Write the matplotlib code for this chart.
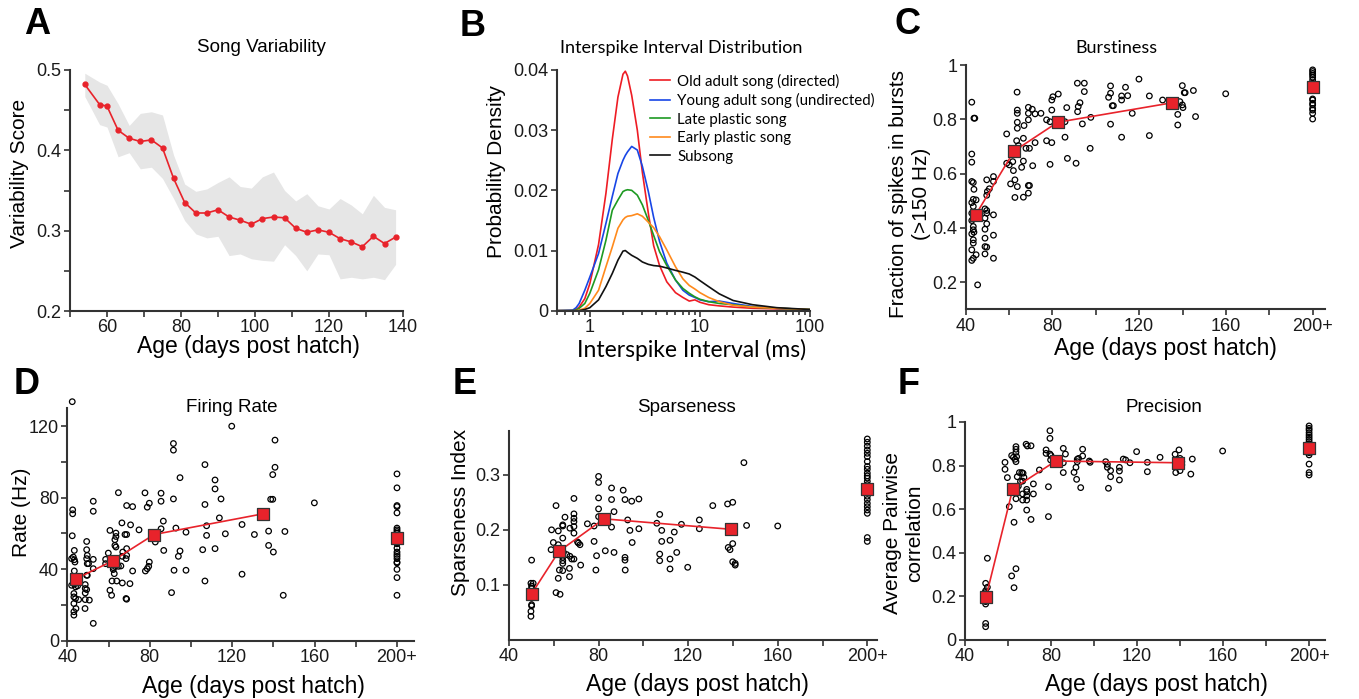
import numpy as np
import matplotlib
matplotlib.use('Agg')
import matplotlib.pyplot as plt
from matplotlib.ticker import MultipleLocator, NullFormatter

W, H = 1359, 699
plt.rcParams['font.family'] = ['Liberation Sans', 'DejaVu Sans']
CALIBRI = ['Lato', 'DejaVu Sans']   # stand-in for Calibri
RED = '#e8232b'
EDGE = '#333333'

# ---------------- A: song variability ----------------
a_age = [54, 58, 60, 63, 66, 69, 72, 75, 78, 81, 84, 87, 90, 93, 96, 99, 102, 105,
         108, 111, 114, 117, 120, 123, 126, 129, 132, 135, 138]
a_score = [0.482, 0.457, 0.455, 0.425, 0.415, 0.411, 0.413, 0.403, 0.365, 0.335, 0.322,
           0.322, 0.326, 0.317, 0.313, 0.308, 0.315, 0.317, 0.316, 0.303, 0.298, 0.301,
           0.298, 0.290, 0.286, 0.280, 0.293, 0.284, 0.292]
a_upper = [0.496, 0.485, 0.481, 0.458, 0.431, 0.446, 0.448, 0.444, 0.394, 0.358, 0.349,
           0.352, 0.360, 0.367, 0.355, 0.353, 0.367, 0.373, 0.350, 0.337, 0.346, 0.331,
           0.327, 0.340, 0.332, 0.321, 0.344, 0.329, 0.326]
a_lower = [0.467, 0.432, 0.429, 0.392, 0.397, 0.377, 0.379, 0.365, 0.340, 0.3125, 0.296,
           0.291, 0.293, 0.269, 0.271, 0.265, 0.263, 0.262, 0.2825, 0.269, 0.250, 0.271,
           0.270, 0.240, 0.242, 0.240, 0.242, 0.239, 0.258]

# ---------------- B: ISI distributions ----------------
isi_ms = [0.5, 0.7, 0.75, 0.8, 0.9, 1.0, 1.2, 1.4, 1.6, 1.8, 2.0, 2.1, 2.2, 2.4, 2.7, 3.0,
          3.4, 3.8, 4.3, 5.0, 6.0, 7.0, 8.0, 9.0, 10, 12, 15, 20, 30, 50, 100]
isi_old_adult = [0, 0, 0.0002, 0.0006, 0.002, 0.0045, 0.011, 0.0195, 0.0285, 0.0355, 0.0393,
                 0.0398, 0.0390, 0.0358, 0.0300, 0.0230, 0.0162, 0.0108, 0.0075, 0.0048,
                 0.0030, 0.0022, 0.0016, 0.0018, 0.0014, 0.0010, 0.0008, 0.0006, 0.0004,
                 0.0003, 0.0001]
isi_young_adult = [0, 0.0001, 0.0005, 0.0012, 0.0034, 0.0056, 0.0095, 0.0145, 0.019, 0.0228,
                   0.025, 0.0258, 0.0264, 0.0273, 0.0267, 0.024, 0.0198, 0.0155, 0.0115,
                   0.0079, 0.0051, 0.0034, 0.0026, 0.0022, 0.0018, 0.0015, 0.0016, 0.0012,
                   0.0007, 0.0004, 0.0002]
isi_late_plastic = [0, 0, 0.0001, 0.0004, 0.0012, 0.0029, 0.0068, 0.0117, 0.0167, 0.0184,
                    0.0198, 0.0200, 0.0201, 0.0200, 0.0192, 0.0176, 0.0150, 0.0125, 0.0098,
                    0.0075, 0.0051, 0.0037, 0.0029, 0.0023, 0.0019, 0.0015, 0.0012, 0.0010,
                    0.0006, 0.0004, 0.0002]
isi_early_plastic = [0, 0, 0, 0.0001, 0.0004, 0.0012, 0.0034, 0.0073, 0.0106, 0.0137, 0.0151,
                     0.0155, 0.0157, 0.0158, 0.0161, 0.0157, 0.0147, 0.0138, 0.0123, 0.0101,
                     0.0073, 0.0053, 0.0042, 0.0036, 0.0030, 0.0022, 0.0015, 0.0009, 0.0006,
                     0.0004, 0.0002]
isi_subsong = [0, 0, 0, 0, 0.0002, 0.0005, 0.0018, 0.004, 0.0062, 0.0084, 0.0099, 0.0100,
               0.0097, 0.0092, 0.0087, 0.0081, 0.0077, 0.0075, 0.0074, 0.0071, 0.0067, 0.0064,
               0.0061, 0.0056, 0.0050, 0.0040, 0.0028, 0.0017, 0.0010, 0.0005, 0.0002]
isi_labels = ['Old adult song (directed)', 'Young adult song (undirected)',
              'Late plastic song', 'Early plastic song', 'Subsong']
isi_colors = ['#ee1c24', '#1846e6', '#1e9a22', '#ff8a1c', '#111111']

# ---------------- C: burstiness ----------------
c_age = [42.8, 43.8, 44.2, 42.8, 42.8, 42.8, 43.5, 43.8, 43.5, 44.8, 42.8, 43.5, 42.8, 42.8,
         43.5, 43.5, 43.8, 42.8, 43.5, 43.5, 42.8, 44.8, 43.5, 42.8, 45.5,
         49.7, 52.8, 52.8, 50.9, 50.0, 49.7, 48.9, 49.7, 49.7, 52.8, 48.9, 49.7, 48.9, 52.8,
         48.9, 48.9, 49.7, 48.9, 52.8,
         63.7, 63.8, 63.8, 68.9, 70.7, 72.0, 74.7, 63.8, 63.8, 66.9, 68.9, 68.9, 58.9, 63.5,
         66.6, 72.0, 67.8, 69.4, 64.3, 58.9, 60.1, 61.7, 62.0, 66.6, 65.8, 70.9, 60.7, 62.7,
         63.8, 68.9, 69.4, 68.9, 62.7, 66.6,
         77.3, 79.7, 78.9, 77.3, 78.9, 79.7, 79.7, 80.2, 82.7, 85.8, 86.9, 86.6, 85.8, 90.9,
         91.6, 91.9, 92.7, 91.5, 94.7, 94.7, 93.8, 97.4, 97.7,
         105.9, 106.8, 106.8, 107.6, 108.1, 106.8, 111.9, 111.9, 113.7, 114.7, 111.9, 116.8,
         119.9, 124.7, 124.7, 130.8, 138.8, 139.9, 139.9, 140.2, 140.8, 141.2, 137.8, 137.8,
         145.0, 146.0, 159.9]
c_frac = [0.863, 0.804, 0.804, 0.672, 0.642, 0.571, 0.567, 0.542, 0.505, 0.503, 0.493, 0.479,
          0.454, 0.427, 0.405, 0.393, 0.384, 0.378, 0.356, 0.344, 0.319, 0.301, 0.288, 0.280,
          0.190,
          0.577, 0.589, 0.571, 0.544, 0.534, 0.520, 0.470, 0.464, 0.454, 0.448, 0.436, 0.415,
          0.395, 0.373, 0.362, 0.331, 0.329, 0.304, 0.288,
          0.900, 0.834, 0.822, 0.844, 0.837, 0.820, 0.822, 0.789, 0.767, 0.777, 0.798, 0.822,
          0.746, 0.721, 0.730, 0.714, 0.693, 0.693, 0.703, 0.638, 0.632, 0.644, 0.611, 0.646,
          0.623, 0.629, 0.562, 0.577, 0.552, 0.556, 0.556, 0.528, 0.512, 0.513,
          0.721, 0.714, 0.634, 0.798, 0.791, 0.834, 0.871, 0.883, 0.893, 0.734, 0.656, 0.843,
          0.791, 0.638, 0.828, 0.847, 0.861, 0.933, 0.933, 0.902, 0.783, 0.693, 0.807,
          0.881, 0.923, 0.896, 0.850, 0.850, 0.782, 0.886, 0.871, 0.918, 0.887, 0.734, 0.822,
          0.948, 0.886, 0.740, 0.871, 0.865, 0.924, 0.853, 0.843, 0.898, 0.898, 0.818, 0.779,
          0.906, 0.810, 0.894]
c_adult = [0.982, 0.976, 0.969, 0.963, 0.955, 0.945, 0.933, 0.875, 0.871, 0.859, 0.853,
           0.840, 0.834, 0.822, 0.801]
c_mean_age = [44.6, 62.3, 82.4, 135.3]
c_mean = [0.448, 0.683, 0.789, 0.861]
c_adult_mean = 0.918

# ---------------- D: firing rate ----------------
d_age = [42.4, 42.6, 42.6, 42.4, 43.4, 42.1, 42.9, 43.4, 43.7, 43.4, 42.1, 43.4, 44.0, 45.0,
         43.2, 43.2, 44.0, 45.5, 43.2, 44.2, 43.2, 43.2,
         52.6, 52.6, 49.4, 49.4, 49.7, 49.4, 49.7, 50.3, 52.6, 52.6, 49.4, 49.7, 48.7, 48.7,
         49.4, 48.7, 48.7, 50.7, 48.6, 52.6,
         60.7, 63.6, 63.6, 63.1, 63.1, 63.6, 59.9, 58.6, 58.6, 62.3, 62.3, 63.1, 64.8, 66.0,
         62.8, 61.7, 64.0, 60.7, 61.5, 64.8, 66.7, 70.4, 68.5, 68.8, 66.9, 66.7, 68.8, 68.5,
         68.8, 66.5, 70.7, 68.0, 68.8, 74.8, 68.8, 71.7, 71.7, 77.7, 78.8, 79.8, 79.8, 79.5,
         78.8, 77.9,
         82.7, 85.5, 85.5, 86.6, 85.5, 86.8, 91.5, 91.5, 91.5, 92.7, 93.9, 94.7, 94.7, 91.8,
         90.6, 97.6, 97.6,
         105.7, 106.8, 106.8, 107.6, 107.6, 106.8, 111.7, 111.7, 111.7, 113.8, 114.6, 116.7,
         119.8, 124.8, 124.8, 130.8, 137.7, 137.7, 138.7, 139.7, 139.7, 140.0, 140.8, 140.8,
         144.8, 145.6, 159.9]
d_rate = [133.7, 73.2, 71.0, 58.7, 50.5, 45.9, 46.8, 45.3, 44.0, 39.0, 31.0, 31.6, 30.1, 30.7,
          26.4, 24.5, 23.6, 23.0, 20.8, 18.0, 16.2, 14.3,
          78.0, 72.4, 55.5, 50.9, 47.7, 45.9, 43.1, 43.1, 45.5, 40.3, 36.6, 36.6, 31.4, 29.2,
          28.6, 26.7, 23.0, 22.7, 18.0, 9.7,
          61.7, 60.2, 58.3, 56.5, 53.3, 52.4, 49.0, 45.5, 43.1, 40.9, 39.8, 41.6, 41.6, 41.8,
          37.5, 33.4, 33.4, 28.2, 25.4, 82.8, 32.3, 31.9, 23.6, 23.2, 49.6, 47.2, 47.7, 45.9,
          51.5, 65.9, 64.8, 59.4, 59.4, 62.0, 75.6, 75.0, 39.0, 82.7, 74.7, 76.9, 44.0, 41.6,
          40.3, 39.0,
          55.2, 82.5, 78.0, 66.9, 62.6, 50.5, 110.3, 106.6, 79.3, 63.0, 47.2, 50.2, 91.2, 39.4,
          26.9, 60.7, 39.4,
          50.9, 98.5, 76.2, 64.3, 58.9, 33.4, 89.9, 84.9, 51.5, 68.7, 79.3, 59.8, 120.0, 65.0,
          37.2, 59.4, 61.3, 53.3, 79.1, 79.1, 92.9, 49.6, 112.2, 97.0, 25.4, 61.1, 77.1]
d_adult = [93.3, 85.5, 75.6, 75.0, 71.5, 63.0, 62.0, 61.1, 60.2, 54.2, 51.8, 49.6, 48.3, 47.2,
           45.9, 44.0, 43.5, 39.9, 35.3, 25.4]
d_mean_age = [44.4, 62.2, 82.1, 135.1]
d_mean = [34.7, 44.8, 59.4, 71.0]
d_adult_mean = 57.4

# ---------------- E: sparseness ----------------
e_age = [50.1, 49.8, 50.8, 50.1, 50.1, 50.1, 50.1, 50.1, 49.8, 49.8,
         61.0, 69.0, 69.0, 69.0, 69.0, 69.0, 69.0, 59.0, 62.0, 64.0, 64.0, 65.0, 64.0, 67.2,
         59.8, 62.0, 71.0, 71.7, 70.6, 58.8, 64.3, 65.8, 64.0, 67.2, 64.0, 68.0, 64.0, 69.0,
         72.0, 62.5, 64.0, 67.0, 62.0, 67.0, 61.0, 62.8, 75.0, 78.0, 78.0, 79.1, 78.8,
         80.0, 80.0, 80.0, 80.0, 80.0, 83.0, 85.8, 85.8, 86.9, 85.8, 86.9, 91.0, 91.8, 91.8,
         91.8, 91.9, 94.8, 98.0, 93.0, 94.0, 98.0, 95.0,
         106.0, 107.3, 108.2, 108.2, 107.3, 107.3, 111.9, 111.9, 111.9, 113.8, 114.9, 117.0,
         119.8, 125.0, 125.0, 131.0, 137.6, 139.9, 137.9, 138.7, 139.9, 139.9, 141.0, 141.0,
         144.9, 146.1, 160.0]
e_index = [0.145, 0.103, 0.103, 0.098, 0.094, 0.076, 0.064, 0.062, 0.052, 0.043,
           0.244, 0.257, 0.229, 0.221, 0.215, 0.206, 0.194, 0.200, 0.198, 0.209, 0.207, 0.223,
           0.185, 0.203, 0.177, 0.173, 0.176, 0.173, 0.178, 0.164, 0.159, 0.155, 0.150, 0.152,
           0.144, 0.147, 0.139, 0.147, 0.136, 0.127, 0.126, 0.130, 0.112, 0.115, 0.086, 0.083,
           0.211, 0.207, 0.179, 0.153, 0.127,
           0.297, 0.286, 0.258, 0.238, 0.224, 0.162, 0.276, 0.255, 0.233, 0.205, 0.159, 0.272,
           0.255, 0.150, 0.145, 0.127, 0.252, 0.256, 0.218, 0.199, 0.202, 0.177,
           0.212, 0.228, 0.199, 0.179, 0.156, 0.144, 0.181, 0.147, 0.129, 0.196, 0.159, 0.210,
           0.132, 0.218, 0.202, 0.244, 0.247, 0.250, 0.168, 0.164, 0.175, 0.142, 0.139, 0.136,
           0.322, 0.208, 0.207]
e_adult = [0.365, 0.359, 0.352, 0.345, 0.339, 0.333, 0.324, 0.315, 0.310, 0.303, 0.298,
           0.294, 0.288, 0.282, 0.261, 0.255, 0.248, 0.242, 0.236, 0.230, 0.186, 0.179]
e_mean_age = [50.1, 62.3, 82.4, 139.1]
e_mean = [0.084, 0.161, 0.220, 0.201]
e_adult_mean = 0.274

# ---------------- F: precision ----------------
f_age = [50.4, 49.6, 50.4, 49.6, 49.3, 49.6, 49.6, 49.6, 49.6, 49.6,
         58.6, 58.6, 59.7, 61.7, 62.5, 63.3, 63.7, 63.7, 63.7, 64.0, 63.7, 68.4, 69.0, 70.7,
         65.3, 66.4, 67.0, 64.3, 67.4, 66.8, 65.8, 64.8, 68.7, 68.7, 66.8, 68.7, 66.8, 68.7,
         63.7, 68.7, 71.8, 71.8, 70.7, 60.6, 62.8, 63.7, 61.7, 62.8, 74.6, 78.8, 78.8,
         79.5, 79.5, 77.7, 77.7, 79.5, 80.0, 79.8, 85.7, 86.7, 85.7, 85.7, 90.7, 91.6, 92.2,
         92.2, 92.8, 94.7, 94.7, 91.9, 93.8, 97.8, 98.2,
         105.4, 106.2, 106.2, 107.7, 107.7, 106.7, 111.8, 111.8, 111.8, 113.6, 114.7, 116.7,
         119.8, 124.8, 124.8, 130.7, 137.7, 138.0, 139.5, 140.0, 140.8, 140.8, 140.0, 145.0,
         145.7, 159.8]
f_corr = [0.375, 0.260, 0.242, 0.226, 0.217, 0.187, 0.176, 0.165, 0.076, 0.061,
          0.815, 0.783, 0.745, 0.846, 0.838, 0.829, 0.887, 0.875, 0.861, 0.841, 0.818, 0.898,
          0.890, 0.891, 0.768, 0.768, 0.765, 0.749, 0.746, 0.729, 0.727, 0.706, 0.691, 0.680,
          0.670, 0.661, 0.642, 0.642, 0.648, 0.596, 0.716, 0.670, 0.553, 0.612, 0.540, 0.327,
          0.294, 0.240, 0.780, 0.703, 0.566,
          0.960, 0.925, 0.872, 0.856, 0.853, 0.846, 0.826, 0.879, 0.853, 0.813, 0.768, 0.769,
          0.792, 0.818, 0.829, 0.833, 0.875, 0.844, 0.737, 0.699, 0.821, 0.815,
          0.818, 0.806, 0.792, 0.777, 0.749, 0.696, 0.792, 0.775, 0.734, 0.830, 0.826, 0.813,
          0.864, 0.815, 0.772, 0.838, 0.852, 0.768, 0.872, 0.833, 0.818, 0.803, 0.777, 0.761,
          0.830, 0.867]
f_adult = [0.982, 0.971, 0.963, 0.951, 0.940, 0.930, 0.920, 0.910, 0.899, 0.890, 0.869,
           0.859, 0.849, 0.807, 0.768, 0.757]
f_mean_age = [49.8, 62.2, 82.2, 139.2]
f_mean = [0.199, 0.693, 0.821, 0.813]
f_adult_mean = 0.879

age_ticks = [40, 80, 120, 160, 200]
age_ticklabels = ['40', '80', '120', '160', '200+']
ADULT_X = 200


fig = plt.figure(figsize=(W / 100, H / 100), dpi=100)


def add_axes(x0, y0, x1, y1):
    # pixel box (top-left origin) -> figure fraction
    return fig.add_axes([x0 / W, 1 - y1 / H, (x1 - x0) / W, (y1 - y0) / H])


def ftext(x, y, s, **kw):
    kw.setdefault('ha', 'center')
    kw.setdefault('va', 'center')
    return fig.text(x / W, 1 - y / H, s, **kw)


def style(ax):
    for s in ['top', 'right']:
        ax.spines[s].set_visible(False)
    for s in ['left', 'bottom']:
        ax.spines[s].set_linewidth(1.5)
        ax.spines[s].set_color(EDGE)
    ax.tick_params(which='both', direction='out', color=EDGE, width=1.2,
                   labelsize=13, labelcolor='#1a1a1a', pad=2)
    ax.tick_params(which='major', length=4)
    ax.tick_params(which='minor', length=4)
    ax.patch.set_alpha(0)


def age_scatter(ax, ages, vals, adult, mean_age, mean, adult_mean, xmax):
    ax.scatter(ages, vals, s=16, facecolors='none', edgecolors='black',
               linewidths=0.9, zorder=2, clip_on=False)
    ax.scatter([ADULT_X] * len(adult), adult, s=16, facecolors='none',
               edgecolors='black', linewidths=0.9, zorder=2, clip_on=False)
    ax.plot(mean_age, mean, color=RED, lw=1.2, zorder=3)
    ax.scatter(mean_age + [ADULT_X], mean + [adult_mean], marker='s', s=85,
               facecolors=RED, edgecolors=EDGE, linewidths=0.9, zorder=4)
    ax.set_xlim(40, xmax)
    ax.set_xticks(age_ticks, age_ticklabels)
    ax.xaxis.set_minor_locator(MultipleLocator(20))


# A
axA = add_axes(70, 70, 403, 311)
style(axA)
axA.fill_between(a_age, a_lower, a_upper, color='#e6e6e6', lw=0)
axA.plot(a_age, a_score, color=RED, lw=1.2, marker='o', ms=3.5, zorder=3)
axA.set_xlim(50, 140)
axA.set_ylim(0.2, 0.5)
axA.set_xticks([60, 80, 100, 120, 140])
axA.xaxis.set_minor_locator(MultipleLocator(10))
axA.set_yticks([0.2, 0.3, 0.4, 0.5], ['0.2', '0.3', '0.4', '0.5'])
axA.yaxis.set_minor_locator(MultipleLocator(0.05))

# B
axB = add_axes(556.7, 70, 810, 310.7)
style(axB)
for ys, lab, col in zip([isi_old_adult, isi_young_adult, isi_late_plastic,
                         isi_early_plastic, isi_subsong], isi_labels, isi_colors):
    axB.plot(isi_ms, ys, color=col, lw=1.2, label=lab)
axB.set_xscale('log')
axB.set_xlim(0.5, 100)
axB.set_ylim(0, 0.04)
axB.set_xticks([1, 10, 100], ['1', '10', '100'])
axB.xaxis.set_minor_formatter(NullFormatter())
axB.tick_params(which='minor', length=3)
axB.set_yticks([0, 0.01, 0.02, 0.03, 0.04], ['0', '0.01', '0.02', '0.03', '0.04'])
leg = axB.legend(loc='upper left', bbox_to_anchor=(0.37, 0.985), frameon=False,
                 prop={'family': CALIBRI, 'size': 10.8}, handlelength=1.3,
                 handletextpad=0.5, labelspacing=0.3, borderpad=0, borderaxespad=0)

# C
axC = add_axes(965.7, 65, 1325, 309.3)
style(axC)
age_scatter(axC, c_age, c_frac, c_adult, c_mean_age, c_mean, c_adult_mean, 205.7)
axC.set_ylim(0.1, 1.0)
axC.set_yticks([0.2, 0.4, 0.6, 0.8, 1.0], ['0.2', '0.4', '0.6', '0.8', '1'])

# D
axD = add_axes(67.3, 408.3, 414.3, 640.7)
style(axD)
age_scatter(axD, d_age, d_rate, d_adult, d_mean_age, d_mean, d_adult_mean, 208.4)
axD.set_ylim(0, 130)
axD.set_yticks([0, 40, 80, 120])
axD.yaxis.set_minor_locator(MultipleLocator(20))

# E
axE = add_axes(509, 430.7, 876.7, 640)
style(axE)
age_scatter(axE, e_age, e_index, e_adult, e_mean_age, e_mean, e_adult_mean, 204.2)
axE.set_ylim(0, 0.38)
axE.set_yticks([0.1, 0.2, 0.3], ['0.1', '0.2', '0.3'])

# F
axF = add_axes(965, 422, 1325, 640)
style(axF)
age_scatter(axF, f_age, f_corr, f_adult, f_mean_age, f_mean, f_adult_mean, 207.4)
axF.set_ylim(0, 1)
axF.set_yticks([0, 0.2, 0.4, 0.6, 0.8, 1.0], ['0', '0.2', '0.4', '0.6', '0.8', '1'])

# titles
ftext(261.7, 47, 'Song Variability', fontsize=13.5)
ftext(681.3, 48, 'Interspike Interval Distribution', fontsize=13, family=CALIBRI)
ftext(1116.5, 48, 'Burstiness', fontsize=13, family=CALIBRI)
ftext(232, 407, 'Firing Rate', fontsize=13.5)
ftext(686.7, 407, 'Sparseness', fontsize=13.5)
ftext(1164, 407, 'Precision', fontsize=13.5)

# axis labels
XL = 16.5
YL = 15
ftext(248, 347, 'Age (days post hatch)', fontsize=XL)
ftext(691.7, 350, 'Interspike Interval (ms)', fontsize=XL, family=CALIBRI)
ftext(1165.8, 348, 'Age (days post hatch)', fontsize=XL)
ftext(253, 686, 'Age (days post hatch)', fontsize=XL)
ftext(697.5, 684, 'Age (days post hatch)', fontsize=XL)
ftext(1156.7, 684, 'Age (days post hatch)', fontsize=XL)

ftext(20, 173, 'Variability Score', fontsize=YL, rotation=90)
ftext(496.7, 172, 'Probability Density', fontsize=YL, rotation=90)
ftext(910, 194, 'Fraction of spikes in bursts\n(>150 Hz)', fontsize=YL, rotation=90,
      linespacing=1.25, multialignment='center')
ftext(21.7, 512, 'Rate (Hz)', fontsize=YL, rotation=90)
ftext(460.7, 512, 'Sparseness Index', fontsize=YL, rotation=90)
ftext(904, 533, 'Average Pairwise\ncorrelation', fontsize=YL, rotation=90,
      linespacing=1.2, multialignment='center')

# panel letters
for x, y, s in [(37.5, 25, 'A'), (473, 26, 'B'), (907, 25, 'C'),
                (27, 384, 'D'), (465, 385, 'E'), (909, 384, 'F')]:
    ftext(x, y, s, fontsize=26, fontweight='bold')

fig.savefig('out.png', dpi=100)
